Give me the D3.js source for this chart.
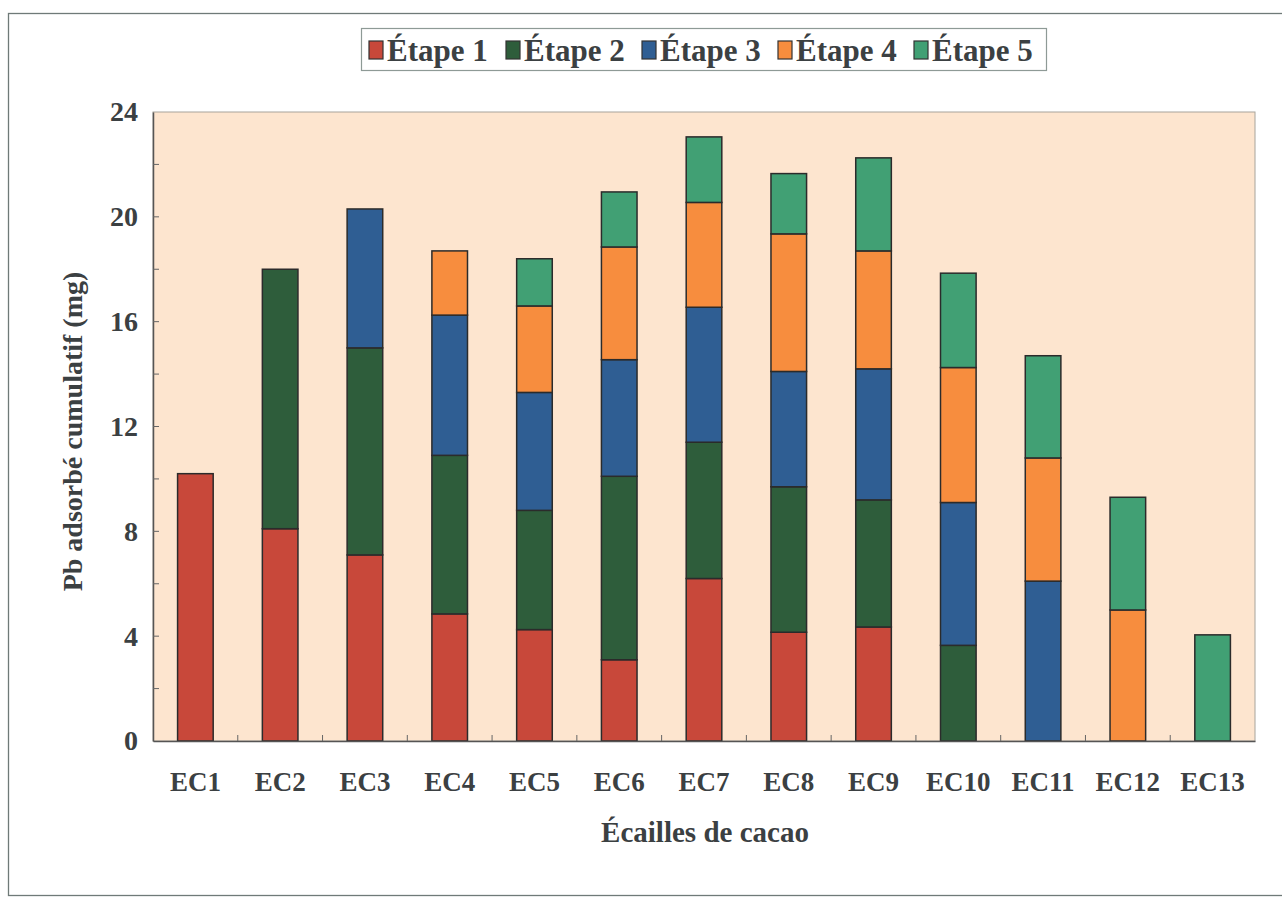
<!DOCTYPE html>
<html>
<head>
<meta charset="utf-8">
<script src="https://cdn.jsdelivr.net/npm/d3@7"></script>
<style>
  html, body { margin: 0; padding: 0; background: #ffffff; }
  svg { display: block; }
  text { font-family: "Liberation Serif", "Times New Roman", serif; font-weight: bold; fill: #3b4042; }
</style>
</head>
<body>
<svg id="chart" width="1282" height="898"></svg>
<script>
// Samples of cocoa shells
const categories = ["EC1","EC2","EC3","EC4","EC5","EC6","EC7","EC8","EC9","EC10","EC11","EC12","EC13"];
const stages = ["Étape 1","Étape 2","Étape 3","Étape 4","Étape 5"];

// Pb adsorbed (mg) at each stage, per sample
const etape1 = [10.2, 8.1, 7.1, 4.85, 4.25, 3.1, 6.2, 4.15, 4.35, 0, 0, 0, 0];
const etape2 = [0, 9.9, 7.9, 6.05, 4.55, 7.0, 5.2, 5.55, 4.85, 3.65, 0, 0, 0];
const etape3 = [0, 0, 5.3, 5.35, 4.5, 4.45, 5.15, 4.4, 5.0, 5.45, 6.1, 0, 0];
const etape4 = [0, 0, 0, 2.45, 3.3, 4.3, 4.0, 5.25, 4.5, 5.15, 4.7, 5.0, 0];
const etape5 = [0, 0, 0, 0, 1.8, 2.1, 2.5, 2.3, 3.55, 3.6, 3.9, 4.3, 4.05];

const yTicks = [0, 4, 8, 12, 16, 20, 24];
const stageColors = ["#c8483a", "#2e5d3b", "#2f5e93", "#f78d3e", "#41a074"];

const series = [etape1, etape2, etape3, etape4, etape5];
const rows = categories.map((c, i) => {
  const r = { cat: c };
  stages.forEach((s, k) => { r[s] = series[k][i]; });
  return r;
});
const stacked = d3.stack().keys(stages)(rows);

const svg = d3.select("#chart");

// outer frame
svg.append("rect")
  .attr("x", 8.5).attr("y", 13.5).attr("width", 1290).attr("height", 882)
  .attr("fill", "none").attr("stroke", "#6f7a78").attr("stroke-width", 1.3);

const plot = { left: 153, right: 1255, top: 112, bottom: 741 };

const x = d3.scaleBand().domain(categories).range([plot.left, plot.right]).paddingInner(0).paddingOuter(0);
const y = d3.scaleLinear().domain([0, 24]).range([plot.bottom, plot.top]);
const barW = x.bandwidth() * 0.42;

// plot background
svg.append("rect")
  .attr("x", plot.left).attr("y", plot.top)
  .attr("width", plot.right - plot.left).attr("height", plot.bottom - plot.top)
  .attr("fill", "#fde5cf").attr("stroke", "#a7a49c").attr("stroke-width", 1);

// stacked bars
const layers = svg.append("g").selectAll("g").data(stacked).join("g")
  .attr("fill", (d, i) => stageColors[i]);
layers.selectAll("rect")
  .data(d => d.filter(s => s[1] - s[0] > 0).map(s => ({ s, cat: s.data.cat })))
  .join("rect")
  .attr("x", d => x(d.cat) + (x.bandwidth() - barW) / 2)
  .attr("y", d => y(d.s[1]))
  .attr("width", barW)
  .attr("height", d => y(d.s[0]) - y(d.s[1]))
  .attr("stroke", "#2b2b2b").attr("stroke-width", 1.5);

// y axis: labelled ticks every 4, minor ticks every 2 (inside)
const yAxis = d3.axisLeft(y).tickValues(yTicks).tickSize(0).tickPadding(15).tickFormat(d3.format("d"));
const gy = svg.append("g").attr("transform", `translate(${plot.left},0)`).call(yAxis);
gy.select(".domain").attr("stroke", "#555").attr("stroke-width", 1.5);
gy.selectAll("text").style("font-size", "28px").attr("fill", "#3b4042");
svg.append("g").selectAll("line").data(d3.range(2, 24, 2)).join("line")
  .attr("x1", plot.left).attr("x2", plot.left + 6)
  .attr("y1", d => y(d)).attr("y2", d => y(d))
  .attr("stroke", "#666").attr("stroke-width", 1);

// x axis
const xAxis = d3.axisBottom(x).tickSize(0).tickPadding(31);
const gx = svg.append("g").attr("transform", `translate(0,${plot.bottom})`).call(xAxis);
gx.select(".domain").attr("stroke", "#555").attr("stroke-width", 1.5);
gx.selectAll("text").style("font-size", "27px").attr("fill", "#3b4042");
// tick marks between categories, pointing up
svg.append("g").selectAll("line").data(categories.slice(1)).join("line")
  .attr("x1", d => x(d)).attr("x2", d => x(d))
  .attr("y1", plot.bottom).attr("y2", plot.bottom - 6)
  .attr("stroke", "#666").attr("stroke-width", 1);

// axis titles
svg.append("text")
  .attr("transform", `translate(82,${(plot.top + plot.bottom) / 2 + 5}) rotate(-90)`)
  .attr("text-anchor", "middle")
  .style("font-size", "28px")
  .text("Pb adsorbé cumulatif (mg)");
svg.append("text")
  .attr("x", 705).attr("y", 842)
  .attr("text-anchor", "middle")
  .style("font-size", "29px")
  .text("Écailles de cacao");

// legend
const legend = svg.append("g");
legend.append("rect")
  .attr("x", 361.5).attr("y", 28.5).attr("width", 685).attr("height", 42)
  .attr("fill", "#ffffff").attr("stroke", "#8e9a96").attr("stroke-width", 1.2);
const legendX = [369, 506, 642, 778, 914];
stages.forEach((s, i) => {
  const g = legend.append("g").attr("transform", `translate(${legendX[i]},0)`);
  g.append("rect").attr("x", 0).attr("y", 41).attr("width", 14).attr("height", 18)
    .attr("fill", stageColors[i]).attr("stroke", "#333").attr("stroke-width", 1.2);
  g.append("text").attr("x", 18).attr("y", 61)
    .style("font-size", "31px").text(s);
});
</script>
</body>
</html>
